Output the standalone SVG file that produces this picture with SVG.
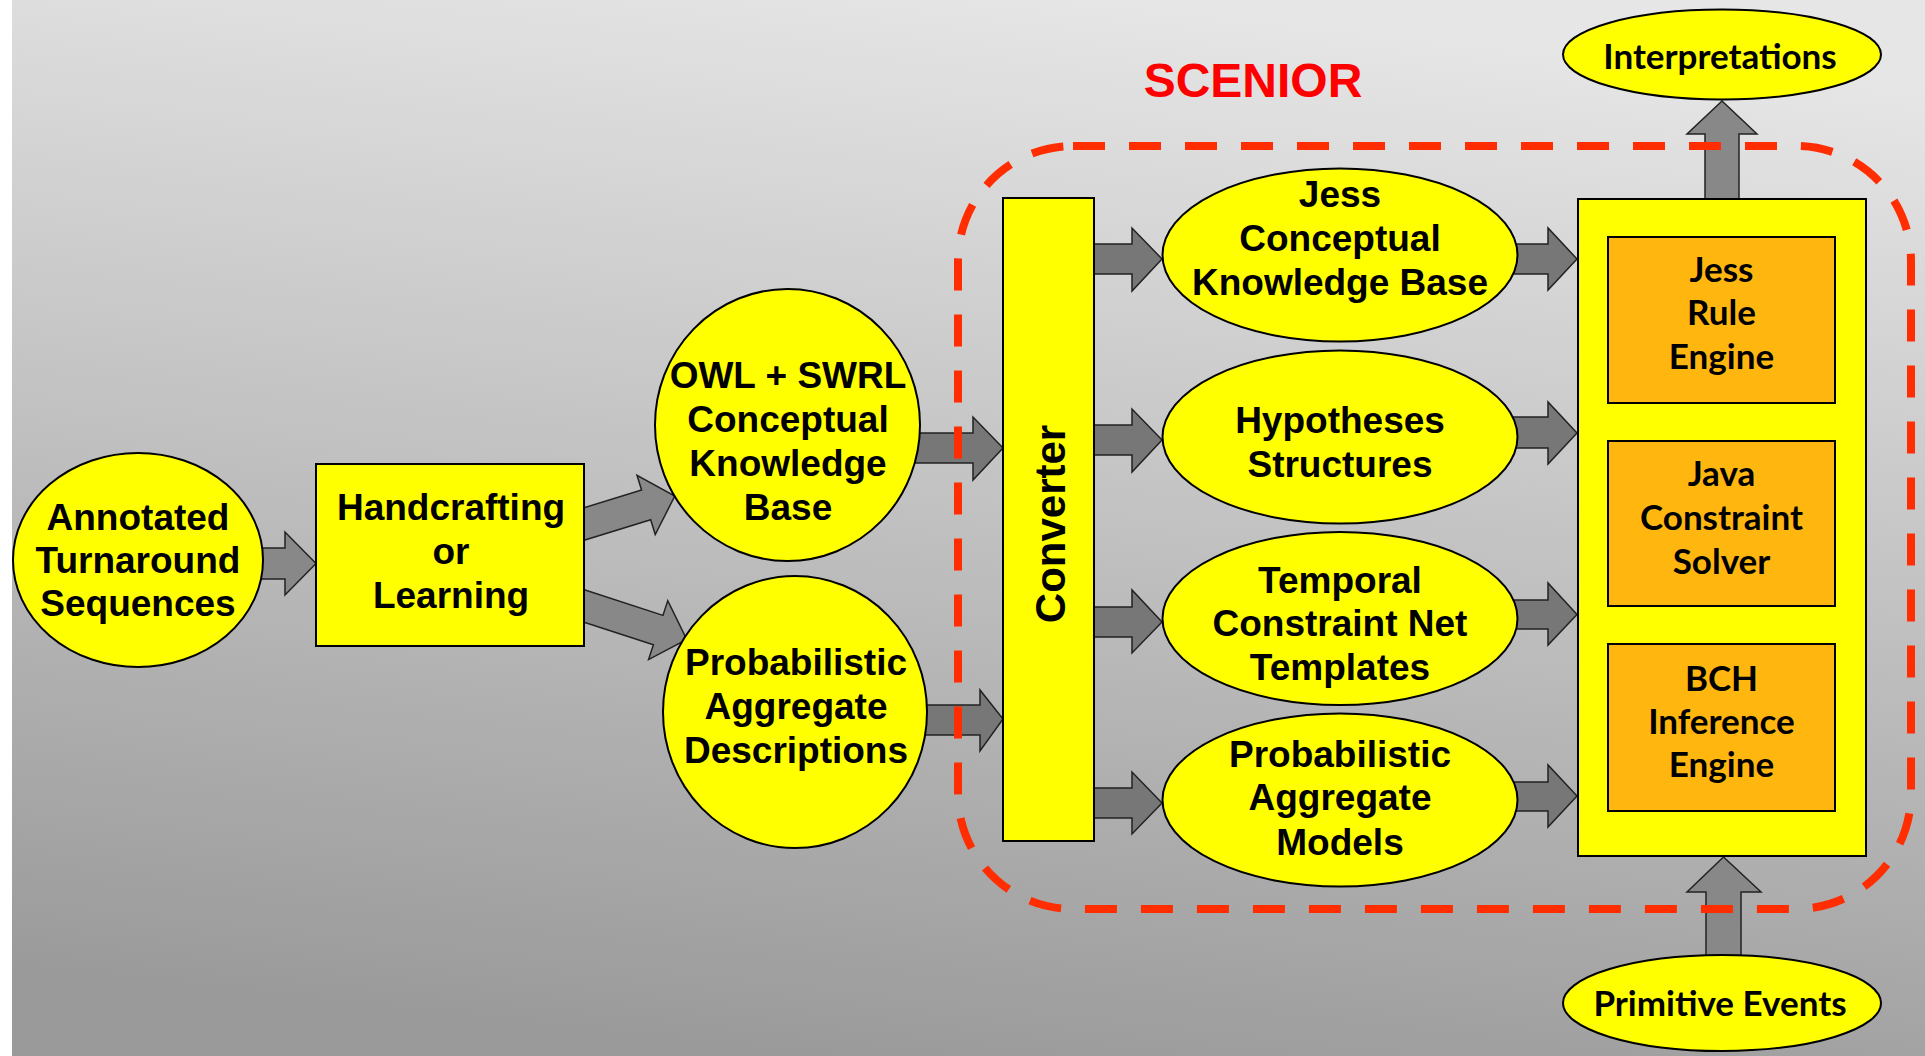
<svg xmlns="http://www.w3.org/2000/svg" width="1925" height="1056" viewBox="0 0 1925 1056">
<defs>
<linearGradient id="bg" x1="0.6" y1="0" x2="0.4" y2="1">
<stop offset="0" stop-color="#e6e6e6"/>
<stop offset="1" stop-color="#9a9a9a"/>
</linearGradient>
<style>
.node{fill:#ffff00;stroke:#000;stroke-width:2}
.eng{fill:#ffb60f;stroke:#000;stroke-width:2}
.arr{fill:#888888;stroke:#222;stroke-width:1.5;stroke-linejoin:miter}
.arr2{fill:#777777;stroke:#222;stroke-width:1.5;stroke-linejoin:miter}
.t{font-family:"Liberation Sans",Arial,sans-serif;font-weight:bold;font-size:37px;text-anchor:middle;fill:#000}
.c{font-family:Lato,"Open Sans",sans-serif;font-weight:bold;font-size:35px;text-anchor:middle;fill:#000}
.bound{fill:none;stroke:#ff2d00;stroke-width:8;stroke-dasharray:32 24}
</style>
</defs>
<rect x="0" y="0" width="1925" height="1056" fill="#ffffff"/>
<rect x="12" y="0" width="1913" height="1056" fill="url(#bg)"/>

<g id="connectors">
<polygon class="arr" points="250,548 285,548 285,532 316,563.5 285,595 285,579 250,579"/>
<polygon class="arr" transform="translate(584,524) rotate(-17.1)" points="-20,-15.5 65,-15.5 65,-31 95,0 65,31 65,15.5 -20,15.5"/>
<polygon class="arr" transform="translate(584,606) rotate(18)" points="-20,-15.5 78,-15.5 78,-31 108,0 78,31 78,15.5 -20,15.5"/>
<polygon class="arr2" points="900,433 973,433 973,417 1003,448 973,480 973,463 900,463"/>
<polygon class="arr2" points="910,705 980,705 980,690 1003,719 980,751 980,735 910,735"/>
<polygon class="arr2" points="1090,244 1132,244 1132,228 1162,259 1132,291 1132,274 1090,274"/>
<polygon class="arr2" points="1090,425 1132,425 1132,409 1162,440 1132,472 1132,455 1090,455"/>
<polygon class="arr2" points="1090,607 1132,607 1132,590 1162,622 1132,653 1132,637 1090,637"/>
<polygon class="arr2" points="1090,788 1132,788 1132,772 1162,803 1132,834 1132,818 1090,818"/>
<polygon class="arr2" points="1500,244 1548,244 1548,228 1577,259 1548,290 1548,274 1500,274"/>
<polygon class="arr2" points="1500,417 1548,417 1548,402 1577,433 1548,464 1548,448 1500,448"/>
<polygon class="arr2" points="1500,600 1548,600 1548,583 1577,614.5 1548,645 1548,629 1500,629"/>
<polygon class="arr2" points="1500,782 1548,782 1548,765 1577,796 1548,827 1548,811 1500,811"/>
<polygon class="arr" points="1705,210 1705,134 1687,134 1722,101 1757,134 1739,134 1739,210"/>
<polygon class="arr" points="1706,965 1706,892 1687,892 1723.5,857 1761,892 1741,892 1741,965"/>
</g>

<g id="annotated">
<ellipse class="node" cx="138" cy="560" rx="125" ry="107"/>
<text class="t" x="138" y="530">Annotated</text>
<text class="t" x="138" y="573">Turnaround</text>
<text class="t" x="138" y="616">Sequences</text>
</g>
<g id="handcrafting">
<rect class="node" x="316" y="464" width="268" height="182"/>
<text class="t" x="451" y="520">Handcrafting</text>
<text class="t" x="451" y="564">or</text>
<text class="t" x="451" y="608">Learning</text>
</g>
<g id="owl">
<ellipse class="node" cx="787.5" cy="425" rx="132.5" ry="136"/>
<text class="t" x="788" y="388">OWL + SWRL</text>
<text class="t" x="788" y="432">Conceptual</text>
<text class="t" x="788" y="476">Knowledge</text>
<text class="t" x="788" y="520">Base</text>
</g>
<g id="pad">
<ellipse class="node" cx="795" cy="712" rx="132" ry="136"/>
<text class="t" x="796" y="675">Probabilistic</text>
<text class="t" x="796" y="719">Aggregate</text>
<text class="t" x="796" y="763">Descriptions</text>
</g>
<g id="converter">
<rect class="node" x="1003" y="198" width="91" height="643"/>
<text class="t" style="font-size:42px" transform="translate(1065,524) rotate(-90)" x="0" y="0">Converter</text>
</g>
<g id="jess-kb">
<ellipse class="node" cx="1340" cy="255" rx="177.5" ry="86.5"/>
<text class="t" x="1340" y="207">Jess</text>
<text class="t" x="1340" y="251">Conceptual</text>
<text class="t" x="1340" y="295">Knowledge Base</text>
</g>
<g id="hypotheses">
<ellipse class="node" cx="1340" cy="437" rx="177.5" ry="86.5"/>
<text class="t" x="1340" y="433">Hypotheses</text>
<text class="t" x="1340" y="477">Structures</text>
</g>
<g id="temporal">
<ellipse class="node" cx="1340" cy="618.5" rx="177.5" ry="86.5"/>
<text class="t" x="1340" y="593">Temporal</text>
<text class="t" x="1340" y="636">Constraint Net</text>
<text class="t" x="1340" y="680">Templates</text>
</g>
<g id="pam">
<ellipse class="node" cx="1340" cy="800" rx="177.5" ry="86.5"/>
<text class="t" x="1340" y="767">Probabilistic</text>
<text class="t" x="1340" y="810">Aggregate</text>
<text class="t" x="1340" y="855">Models</text>
</g>
<g id="engines">
<rect class="node" x="1578" y="199" width="288" height="657"/>
<g id="jess-rule">
<rect class="eng" x="1608" y="237" width="227" height="166"/>
<text class="c" x="1721.5" y="282">Jess</text>
<text class="c" x="1721.5" y="325">Rule</text>
<text class="c" x="1721.5" y="369">Engine</text>
</g>
<g id="java">
<rect class="eng" x="1608" y="441" width="227" height="165"/>
<text class="c" x="1721.5" y="486">Java</text>
<text class="c" x="1721.5" y="530">Constraint</text>
<text class="c" x="1721.5" y="574">Solver</text>
</g>
<g id="bch">
<rect class="eng" x="1608" y="644" width="227" height="167"/>
<text class="c" x="1721.5" y="691">BCH</text>
<text class="c" x="1721.5" y="734">Inference</text>
<text class="c" x="1721.5" y="777">Engine</text>
</g>
</g>
<g id="interpretations">
<ellipse class="node" cx="1722" cy="54.5" rx="159" ry="45"/>
<text class="c" x="1720" y="69">Interpretations</text>
</g>
<g id="primitive">
<ellipse class="node" cx="1722" cy="1003" rx="159" ry="48"/>
<text class="c" x="1720" y="1016">Primitive Events</text>
</g>
<g id="scenior">
<rect class="bound" x="958" y="146" width="953" height="763" rx="115" ry="115"/>
<text class="t" style="font-size:48px;fill:#ff0000" x="1253" y="97">SCENIOR</text>
</g>
</svg>
